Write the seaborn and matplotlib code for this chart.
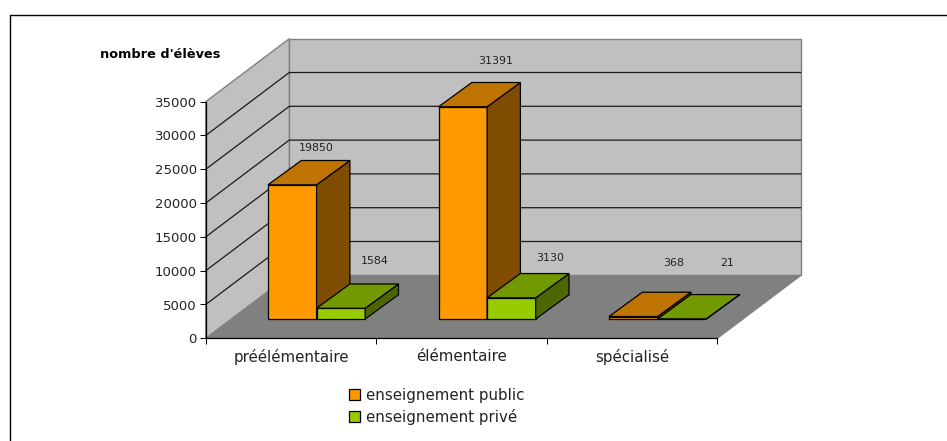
import numpy as np
import pandas as pd
import matplotlib
matplotlib.use("Agg")
import matplotlib.pyplot as plt
from matplotlib.patches import Polygon
from matplotlib.lines import Line2D
import seaborn as sns

categories = ["préélémentaire", "élémentaire", "spécialisé"]
public_values = [19850, 31391, 368]
private_values = [1584, 3130, 21]
series_names = ["enseignement public", "enseignement privé"]
y_ticks = [0, 5000, 10000, 15000, 20000, 25000, 30000, 35000]

# pixel offsets of the value labels (moved by hand in the original)
label_nudges = [(-9.5, 12.7), (0, 21.7), (6.7, 29.5), (0, 23), (5.3, 15.5), (11.7, 32)]

W, H = 947, 441
X0, X1 = 205.7, 717.3
Y0, Y1 = 338.3, 101.7
DEPTH_X, DEPTH_Y = 83.6, 63.0
BAR_X, BAR_Y = 33.3, 24.3
FLOOR_SHIFT = 19.3 / 63.0

ORANGE = ("#FF9900", "#BF7300", "#804D00")
GREEN = ("#99CC00", "#739900", "#4D6600")

sns.set_theme(style="white")
plt.rcParams["font.family"] = ["DejaVu Sans"]

df = pd.DataFrame({
    "categorie": categories * 2,
    "eleves": public_values + private_values,
    "secteur": [series_names[0]] * 3 + [series_names[1]] * 3,
})

fig = plt.figure(figsize=(W / 100, H / 100), dpi=100)
ax = fig.add_axes([X0 / W, 1 - Y0 / H, (X1 - X0) / W, (Y0 - Y1) / H])

# data units per pixel
ux = 3.0 / (X1 - X0)
uy = 35000 / (Y0 - Y1)
dx, dy = DEPTH_X * ux, DEPTH_Y * uy
bx, by = BAR_X * ux, BAR_Y * uy

sns.barplot(data=df, x="categorie", y="eleves", hue="secteur", order=categories,
            hue_order=series_names, palette=[ORANGE[0], GREEN[0]], width=0.57,
            gap=0, saturation=1, edgecolor="black", linewidth=0.9, ax=ax)
ax.set_xlim(-0.5, 2.5)
ax.set_ylim(0, 35000)
ax.set_xlabel("")
ax.set_ylabel("")
for s in ax.spines.values():
    s.set_visible(False)

# walls and floor
wall = dict(clip_on=False, zorder=0.5, edgecolor="#808080", linewidth=1)
xa, xb = -0.5, 2.5
ax.add_patch(Polygon([(xa, 0), (xa + dx, dy), (xb + dx, dy), (xb, 0)], facecolor="#808080", **wall))
ax.add_patch(Polygon([(xa + dx, dy), (xa + dx, 35000 + dy), (xb + dx, 35000 + dy), (xb + dx, dy)],
                     facecolor="#C0C0C0", **wall))
ax.add_patch(Polygon([(xa, 0), (xa, 35000), (xa + dx, 35000 + dy), (xa + dx, dy)], facecolor="#C0C0C0", **wall))
for t in y_ticks[1:-1]:
    ax.plot([xa, xa + dx, xb + dx], [t, t + dy, t + dy], color="#1a1a1a", lw=0.9, clip_on=False, zorder=0.8)

# 3d faces from the bars seaborn drew
n = 0
for k, (container, c) in enumerate(zip(ax.containers, [ORANGE, GREEN])):
    z = 3 + k
    for p in container:
        # move the bar back onto the floor
        p.set_x(p.get_x() + FLOOR_SHIFT * dx)
        p.set_y(FLOOR_SHIFT * dy)
        p.set_clip_on(False)
        p.set_zorder(z)
        x, w = p.get_x(), p.get_width()
        b, h = p.get_y(), p.get_height()
        top = b + h
        edge = dict(edgecolor="black", linewidth=0.9, clip_on=False, zorder=z)
        ax.add_patch(Polygon([(x + w, b), (x + w + bx, b + by), (x + w + bx, top + by), (x + w, top)],
                             facecolor=c[2], **edge))
        ax.add_patch(Polygon([(x, top), (x + bx, top + by), (x + w + bx, top + by), (x + w, top)],
                             facecolor=c[1], **edge))
        ax.annotate(str(df["eleves"][n]), (x + w / 2 + bx, top + by), xytext=label_nudges[n],
                    textcoords="offset pixels", ha="center", va="center", fontsize=7.9,
                    color="#222222", annotation_clip=False, zorder=6)
        n += 1

# axis lines and ticks
ax.plot([xa, xa], [0, 35000], color="black", lw=0.9, clip_on=False, zorder=5)
ax.plot([xa, xb], [0, 0], color="black", lw=0.9, clip_on=False, zorder=5)
ax.set_yticks(y_ticks)
ax.set_yticklabels([str(t) for t in y_ticks], fontsize=9.5, color="#222222")
ax.tick_params(axis="y", left=True, length=4.5, width=0.7, pad=2, color="black")
ax.set_xticks(range(3))
ax.set_xticklabels(categories, fontsize=10.8, color="#222222")
ax.set_xticks([-0.5, 0.5, 1.5, 2.5], minor=True)
ax.tick_params(axis="x", which="major", bottom=False, length=0, pad=8)
ax.tick_params(axis="x", which="minor", bottom=True, length=4, width=0.7, color="black")

fig.text(100 / W, 1 - 54 / H, "nombre d'élèves", fontsize=9.3, fontweight="bold",
         color="black", ha="left", va="center")

handles, labels = ax.get_legend_handles_labels()
ax.legend(handles, labels, loc="upper left", bbox_to_anchor=(349 / W, 1 - 388 / H),
          bbox_transform=fig.transFigure, frameon=False, fontsize=10.8, handlelength=0.75,
          handleheight=0.75, handletextpad=0.4, labelspacing=0.37, labelcolor="#222222",
          borderpad=0, borderaxespad=0)

# outer frame: only left and top edges show in the crop
fig.add_artist(Line2D([10 / W, 10 / W, 1], [0, 1 - 14.5 / H, 1 - 14.5 / H], color="black", lw=1))

fig.savefig("out.png", dpi=100)
